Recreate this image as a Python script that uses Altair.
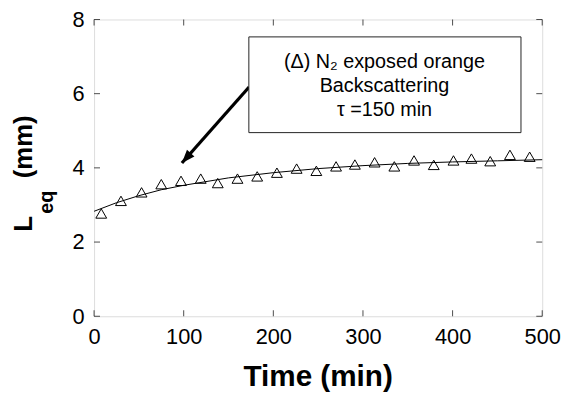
import math
import altair as alt
import pandas as pd

# ---- data ----
time_min = [8, 30, 53, 75, 97, 119, 138, 160, 182, 204, 226, 248, 270, 291,
            313, 335, 357, 379, 401, 421, 442, 464, 486]
leq_mm = [2.77, 3.11, 3.34, 3.56, 3.65, 3.71, 3.59, 3.71, 3.77, 3.87, 3.98, 3.92,
          4.04, 4.09, 4.15, 4.04, 4.20, 4.08, 4.20, 4.25, 4.18, 4.35, 4.30]

fit_time = [0, 25, 50, 75, 100, 150, 200, 250, 300, 350, 400, 450, 500]
fit_leq = [2.83, 3.06, 3.25, 3.41, 3.53, 3.73, 3.87, 3.98, 4.06, 4.12, 4.16, 4.19, 4.22]

x_ticks = [0, 100, 200, 300, 400, 500]
y_ticks = [0, 2, 4, 6, 8]

box_lines = ["(Δ) N₂ exposed orange", "Backscattering", "τ =150 min"]
box_line_y = [6.84, 6.21, 5.56]
box_center_x = [324, 324, 324]
box_x = [172.7]
box_x2 = [476.3]
box_y = [7.53]
box_y2 = [4.95]
arrow_x = [173]
arrow_y = [6.18]
arrow_x2 = [98]
arrow_y2 = [4.13]

W, H = 453, 300
FONT = "Liberation Sans"

xs = alt.Scale(domain=[0, 500], nice=False, zero=False)
ys = alt.Scale(domain=[0, 8], nice=False, zero=False)

pts = pd.DataFrame({"t": time_min, "L": leq_mm})
fit = pd.DataFrame({"t": fit_time, "L": fit_leq})
xt = pd.DataFrame({"v": x_ticks})
yt = pd.DataFrame({"v": y_ticks})
box = pd.DataFrame({"x": box_x, "x2": box_x2, "y": box_y, "y2": box_y2})
txt = pd.DataFrame({"x": box_center_x, "y": box_line_y, "s": box_lines})
arr = pd.DataFrame({"x": arrow_x, "y": arrow_y, "x2": arrow_x2, "y2": arrow_y2})
one = pd.DataFrame({"a": [0]})

xaxis = alt.Axis(values=x_ticks, title="", labelFontSize=22, labelFont=FONT,
                 labelColor="black", ticks=False, tickSize=0, domain=False,
                 grid=False, labelPadding=11, labelFlush=False)
yaxis = alt.Axis(values=y_ticks, title="", labelFontSize=22, labelFont=FONT,
                 labelColor="black", ticks=False, tickSize=0, domain=False,
                 grid=False, labelPadding=10, labelFlush=False)

line = alt.Chart(fit).mark_line(color="black", strokeWidth=1).encode(
    x=alt.X("t:Q", scale=xs, axis=xaxis),
    y=alt.Y("L:Q", scale=ys, axis=yaxis),
)
points = alt.Chart(pts).mark_point(shape="triangle-up", filled=False, size=120,
                                   color="black", strokeWidth=1, opacity=1).encode(
    x=alt.X("t:Q", scale=xs), y=alt.Y("L:Q", scale=ys))

tick_b = alt.Chart(xt).mark_tick(color="black", size=6, thickness=1).encode(
    x=alt.X("v:Q", scale=xs), y=alt.value(H - 3))
tick_t = alt.Chart(xt).mark_tick(color="black", size=6, thickness=1).encode(
    x=alt.X("v:Q", scale=xs), y=alt.value(3))
tick_l = alt.Chart(yt).mark_tick(color="black", size=6, thickness=1, orient="horizontal").encode(
    y=alt.Y("v:Q", scale=ys), x=alt.value(3))
tick_r = alt.Chart(yt).mark_tick(color="black", size=6, thickness=1, orient="horizontal").encode(
    y=alt.Y("v:Q", scale=ys), x=alt.value(W - 3))

rect = alt.Chart(box).mark_rect(fill="white", stroke="#222", strokeWidth=1).encode(
    x=alt.X("x:Q", scale=xs), x2="x2", y=alt.Y("y:Q", scale=ys), y2="y2")
boxtext = alt.Chart(txt).mark_text(font=FONT, fontSize=20, color="black",
                                   align="center", baseline="middle").encode(
    x=alt.X("x:Q", scale=xs), y=alt.Y("y:Q", scale=ys), text="s:N")

shaft = alt.Chart(arr).mark_rule(color="black", strokeWidth=3.3).encode(
    x=alt.X("x:Q", scale=xs), y=alt.Y("y:Q", scale=ys), x2="x2", y2="y2")

dx = (arrow_x2[0] - arrow_x[0]) * W / 500
dy = -(arrow_y2[0] - arrow_y[0]) * H / 8
ang = math.degrees(math.atan2(dx, -dy)) % 360
head = alt.Chart(arr).mark_point(shape="M0,0 L-0.75,2 L0.75,2 Z", filled=True, size=180,
                                 color="black", opacity=1, angle=ang).encode(
    x=alt.X("x2:Q", scale=xs), y=alt.Y("y2:Q", scale=ys))

xtitle = alt.Chart(one).mark_text(text="Time (min)", font=FONT, fontSize=30, fontWeight="bold",
                                  color="black", align="center", baseline="alphabetic").encode(
    x=alt.value(W / 2), y=alt.value(370))
yt_L = alt.Chart(one).mark_text(text="L", font=FONT, fontSize=26, fontWeight="bold",
                                color="black", align="left", baseline="alphabetic", angle=270).encode(
    x=alt.value(-63), y=alt.value(214.5))
yt_eq = alt.Chart(one).mark_text(text="eq", font=FONT, fontSize=20, fontWeight="bold",
                                 color="black", align="left", baseline="alphabetic", angle=270).encode(
    x=alt.value(-42), y=alt.value(196.5))
yt_mm = alt.Chart(one).mark_text(text="(mm)", font=FONT, fontSize=26, fontWeight="bold",
                                 color="black", align="left", baseline="alphabetic", angle=270).encode(
    x=alt.value(-63), y=alt.value(160.5))

chart = alt.layer(
    line, points, tick_b, tick_t, tick_l, tick_r, shaft, head, rect, boxtext,
    xtitle, yt_L, yt_eq, yt_mm
).properties(
    width=W, height=H,
    autosize=alt.AutoSizeParams(type="none"),
    padding={"left": 87, "top": 9.5, "right": 20, "bottom": 77},
).configure_view(stroke="black", strokeWidth=1.5).configure(background="white")

chart.save("out.html", embed_options={"renderer": "svg", "actions": False})
